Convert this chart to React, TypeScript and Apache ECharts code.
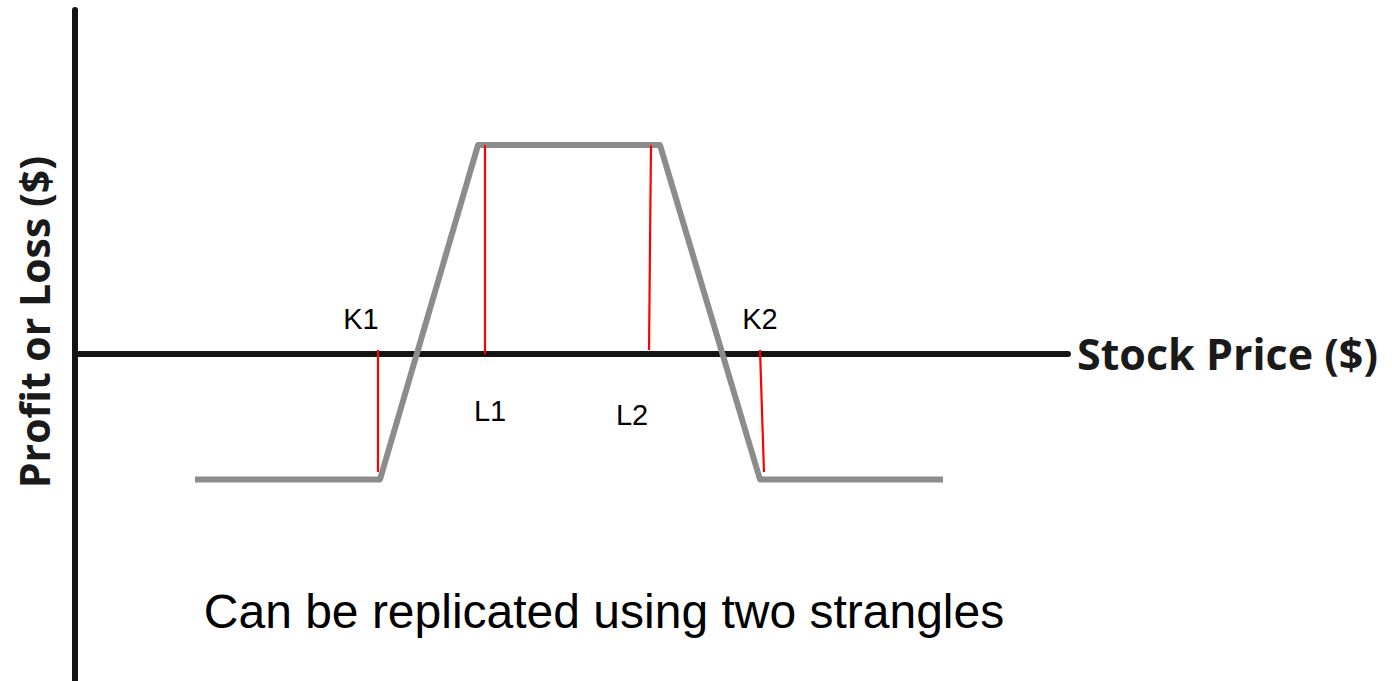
import React, { useEffect, useRef } from "react";
import * as echarts from "echarts";

// Payoff diagram (stock price units vs profit/loss units)
const payoffPrice = [12, 30.5, 40.3, 58.5, 68.5, 86.8];
const payoffValue = [-3, -3, 5, 5, -3, -3];

// Red marker lines: [price at axis, value at axis, price at end, value at end]
const markerNames = ["K1", "L1", "L2", "K2"];
const markerLines = [
  [30.3, 0.1, 30.3, -2.82],
  [41.0, 0, 41.0, 5],
  [57.4, 0.1, 57.6, 5],
  [68.5, 0.1, 68.9, -2.82],
];

const xTitle = "Stock Price ($)";
const yTitle = "Profit or Loss ($)";
const caption = "Can be replicated using two strangles";

export default function App() {
  const ref = useRef<HTMLDivElement>(null);

  useEffect(() => {
    if (!ref.current) return;
    const chart = echarts.init(ref.current, null, { renderer: "svg" });

    const redSeries = markerLines.map((m, i) => ({
      type: "line",
      name: markerNames[i],
      data: [
        [m[0], m[1]],
        [m[2], m[3]],
      ],
      symbol: "none",
      lineStyle: { color: "#ff0000", width: 2.2 },
      z: 4,
      silent: true,
    }));

    const labelPos: Record<string, [number, number]> = {
      K1: [361, 319],
      L1: [490, 411],
      L2: [632, 415],
      K2: [760, 319],
    };

    chart.setOption({
      animation: false,
      backgroundColor: "#ffffff",
      grid: { left: 75, right: 324, top: 10, bottom: 0, containLabel: false },
      xAxis: {
        type: "value",
        min: 0,
        max: 99.3,
        axisLine: { show: true, onZero: true, lineStyle: { color: "#141414", width: 6 } },
        axisTick: { show: false },
        axisLabel: { show: false },
        splitLine: { show: false },
      },
      yAxis: {
        type: "value",
        min: -7.82,
        max: 8.23,
        axisLine: { show: true, onZero: false, lineStyle: { color: "#141414", width: 6 } },
        axisTick: { show: false },
        axisLabel: { show: false },
        splitLine: { show: false },
      },
      series: [
        {
          type: "line",
          name: "payoff",
          data: payoffPrice.map((p, i) => [p, payoffValue[i]]),
          symbol: "none",
          lineStyle: { color: "#8c8c8c", width: 6, join: "round", cap: "butt" },
          z: 3,
          silent: true,
        },
        ...redSeries,
      ],
      graphic: [
        ...markerNames.map((n) => ({
          type: "text",
          x: labelPos[n][0],
          y: labelPos[n][1],
          style: {
            text: n,
            fill: "#000000",
            font: "29px 'Liberation Sans', Arial, sans-serif",
            align: "center",
            verticalAlign: "middle",
          },
          z: 10,
        })),
        {
          type: "text",
          x: 1077,
          y: 353,
          style: {
            text: xTitle,
            fill: "#1a1a1a",
            font: "bold 43px 'Open Sans', sans-serif",
            align: "left",
            verticalAlign: "middle",
          },
          z: 10,
        },
        {
          type: "text",
          x: 34,
          y: 322,
          rotation: Math.PI / 2,
          style: {
            text: yTitle,
            fill: "#1a1a1a",
            font: "bold 41px 'Open Sans', sans-serif",
            align: "center",
            verticalAlign: "middle",
          },
          z: 10,
        },
        {
          type: "text",
          x: 604,
          y: 611,
          style: {
            text: caption,
            fill: "#000000",
            font: "48px 'Liberation Sans', Arial, sans-serif",
            align: "center",
            verticalAlign: "middle",
          },
          z: 10,
        },
      ],
    });

    return () => chart.dispose();
  }, []);

  return (
    <div
      ref={ref}
      style={{ position: "fixed", left: 0, top: 0, width: 1392, height: 681, background: "#fff" }}
    />
  );
}
